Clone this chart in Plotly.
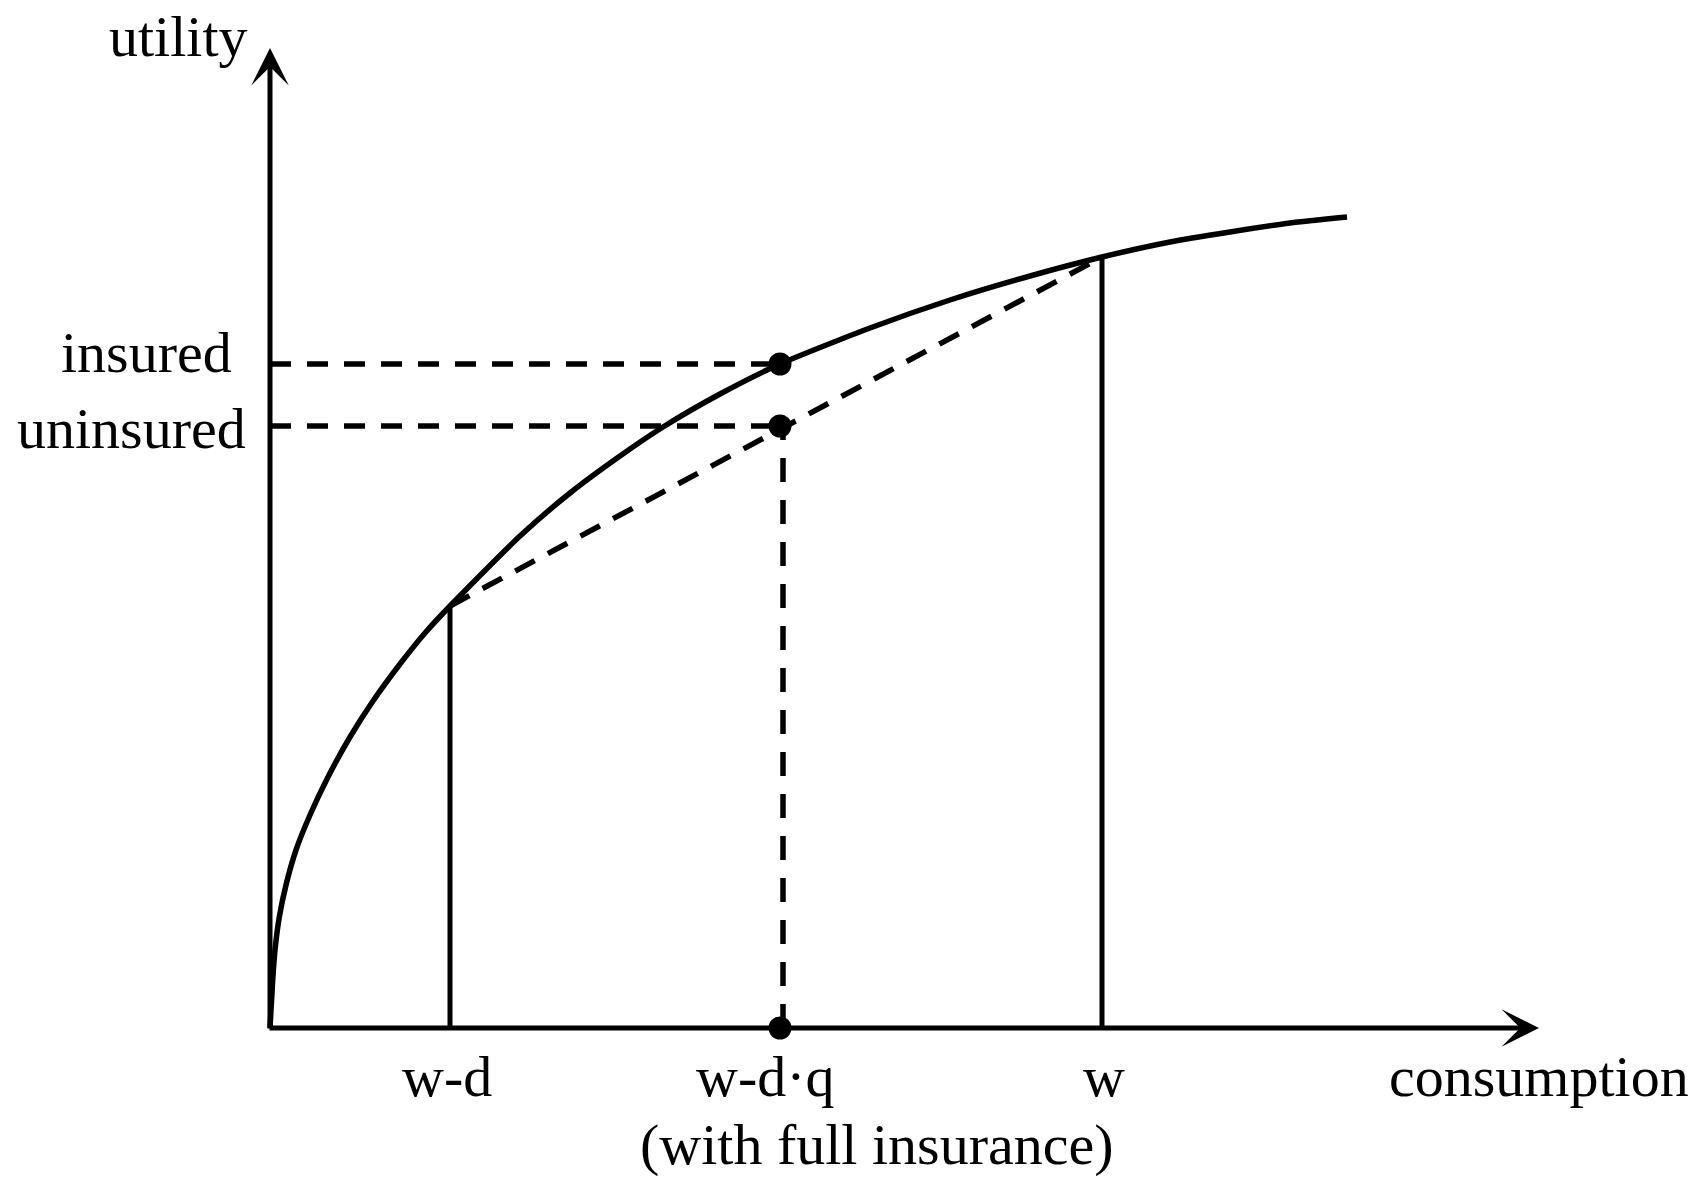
import plotly.graph_objects as go

# ---- data (units: consumption / utility, arbitrary) ----
curve_consumption = [0, 2.7, 5, 9.3, 16, 26, 40, 58, 80, 103, 130, 155, 180, 250, 300,
                     350, 393, 450, 510, 600, 680, 760, 832, 900, 960, 1020, 1077]
curve_utility = [0, 48, 78, 111, 143, 178, 213, 251, 291, 327, 364, 395, 422, 492, 535,
                 572, 601, 634, 664, 700, 728, 752, 771, 786, 796, 805, 811]

w_minus_d = 180
u_w_minus_d = 422
w_minus_dq = 510
u_insured = 664
u_uninsured = 602
w = 832
u_w = 771

x_axis_end = 1269
y_axis_end = 980

x_tick_labels = ["w-d", "w-d·q", "w"]
x_tick_values = [w_minus_d, w_minus_dq, w]
y_tick_labels = ["insured", "uninsured"]
y_tick_values = [u_insured, u_uninsured]

FONT = dict(family="Liberation Serif, Times New Roman, serif", size=58, color="black")
BLACK = "black"
LW = 5.5

fig = go.Figure()

# utility curve
fig.add_trace(go.Scatter(
    x=curve_consumption, y=curve_utility, mode="lines",
    line=dict(color=BLACK, width=LW, shape="spline", smoothing=0.6),
    hoverinfo="skip", showlegend=False))

# vertical solid lines at w-d and w
for xv, uv in [(w_minus_d, u_w_minus_d), (w, u_w)]:
    fig.add_trace(go.Scatter(
        x=[xv, xv], y=[0, uv], mode="lines",
        line=dict(color=BLACK, width=LW - 0.5), hoverinfo="skip", showlegend=False))

# dashed chord between (w-d) and w
fig.add_trace(go.Scatter(
    x=[w_minus_d, w], y=[u_w_minus_d, u_w], mode="lines",
    line=dict(color=BLACK, width=LW, dash="22px,15px"),
    hoverinfo="skip", showlegend=False))

# dashed horizontal guides
for uv in y_tick_values:
    fig.add_trace(go.Scatter(
        x=[0, w_minus_dq], y=[uv, uv], mode="lines",
        line=dict(color=BLACK, width=LW, dash="21px,16px"),
        hoverinfo="skip", showlegend=False))

# dashed vertical guide
fig.add_trace(go.Scatter(
    x=[w_minus_dq + 3, w_minus_dq + 3], y=[0, u_uninsured], mode="lines",
    line=dict(color=BLACK, width=LW, dash="24px,18px"),
    hoverinfo="skip", showlegend=False))

# dots
fig.add_trace(go.Scatter(
    x=[w_minus_dq, w_minus_dq, w_minus_dq], y=[u_insured, u_uninsured, 0],
    mode="markers", marker=dict(color=BLACK, size=23, line=dict(width=0)),
    cliponaxis=False, hoverinfo="skip", showlegend=False))

annotations = []
# axes with arrows
annotations.append(dict(x=x_axis_end, y=0, ax=-2, ay=0, xref="x", yref="y",
                        axref="x", ayref="y", showarrow=True, arrowhead=3,
                        arrowsize=1.25, arrowwidth=LW - 0.5, arrowcolor=BLACK, text=""))
annotations.append(dict(x=0, y=y_axis_end, ax=0, ay=-2, xref="x", yref="y",
                        axref="x", ayref="y", showarrow=True, arrowhead=3,
                        arrowsize=1.25, arrowwidth=LW - 0.5, arrowcolor=BLACK, text=""))

# axis titles
annotations.append(dict(x=0, y=y_axis_end, xref="x", yref="y", text="utility",
                        xshift=-92, yshift=12,
                        showarrow=False, font=FONT, xanchor="center", yanchor="middle"))
annotations.append(dict(x=x_axis_end, y=0, xref="x", yref="y", text="consumption",
                        yshift=-48,
                        showarrow=False, font=FONT, xanchor="center", yanchor="middle"))

# x labels
x_shifts = [-3, -15, 2]
for lab, xv, xs in zip(x_tick_labels, x_tick_values, x_shifts):
    annotations.append(dict(x=xv, y=0, xref="x", yref="y", text=lab, xshift=xs, yshift=-48,
                            showarrow=False, font=FONT, xanchor="center", yanchor="middle"))
annotations.append(dict(x=607, y=0, xref="x", yref="y", text="(with full insurance)",
                        yshift=-116,
                        showarrow=False, font=FONT, xanchor="center", yanchor="middle"))

# y labels
y_xshifts = [-36, -22]
y_yshifts = [12, -2]
for lab, yv, xs, ys in zip(y_tick_labels, y_tick_values, y_xshifts, y_yshifts):
    annotations.append(dict(x=0, y=yv, xref="x", yref="y", text=lab, xshift=xs, yshift=ys,
                            showarrow=False, font=FONT, xanchor="right", yanchor="middle"))

fig.update_layout(
    width=1697, height=1181,
    margin=dict(l=260, r=157, t=48, b=143),
    paper_bgcolor="white", plot_bgcolor="white",
    xaxis=dict(range=[-10, 1270], visible=False, fixedrange=True),
    yaxis=dict(range=[-10, 980], visible=False, fixedrange=True),
    annotations=annotations,
    showlegend=False,
)

# remove the default 8px page margin so the figure fills the window exactly
fig.write_html("out.html",
               config={"displayModeBar": False, "staticPlot": True},
               post_script="document.body.style.margin='0';document.body.style.overflow='hidden';")
